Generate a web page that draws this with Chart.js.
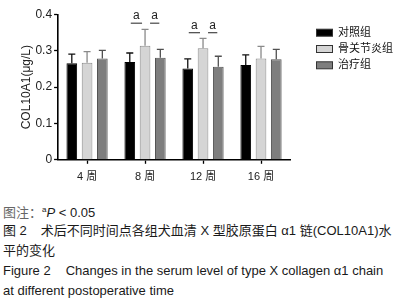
<!DOCTYPE html>
<html>
<head>
<meta charset="utf-8">
<script src="https://cdn.jsdelivr.net/npm/chart.js@4/dist/chart.umd.min.js"></script>
<style>
  html, body { margin: 0; padding: 0; background: #fff; }
  body { width: 404px; height: 305px; position: relative; overflow: hidden; }
  #wrap { position: absolute; left: 0; top: 0; width: 404px; height: 200px; }
  .cap { position: absolute; left: 3px; font-family: "Liberation Sans", "Noto Sans CJK SC", sans-serif; font-size: 13px; line-height: 20px; color: #1a1a1a; white-space: nowrap; }
  .gap { display: inline-block; }
</style>
</head>
<body>
<div id="wrap"><canvas id="c" width="404" height="200"></canvas></div>
<div class="cap" style="top:200px"><span style="color:#666">图注：</span><sup style="font-size:8px;vertical-align:5px">a</sup><i>P</i> &lt; 0.05</div>
<div class="cap" style="top:221px">图 2<span class="gap" style="width:14px"></span>术后不同时间点各组犬血清 X 型胶原蛋白 α1 链(COL10A1)水</div>
<div class="cap" style="top:241px">平的变化</div>
<div class="cap" style="top:261px">Figure 2<span class="gap" style="width:15px"></span>Changes in the serum level of type X collagen α1 chain</div>
<div class="cap" style="top:281px">at different postoperative time</div>
<script>
const categories = ['4 周', '8 周', '12 周', '16 周'];
const groupNames = ['对照组', '骨关节炎组', '治疗组'];
const controlMean = [0.266, 0.269, 0.251, 0.261];
const controlSD   = [0.025, 0.025, 0.027, 0.028];
const oaMean      = [0.267, 0.314, 0.307, 0.279];
const oaSD        = [0.031, 0.045, 0.027, 0.033];
const treatMean   = [0.279, 0.281, 0.256, 0.277];
const treatSD     = [0.022, 0.023, 0.029, 0.027];
const yTicks = [0, 0.1, 0.2, 0.3, 0.4];
// significance marks: category index, y value of the bracket lines, label
const sigCats = [1, 2];
const sigLevels = [0.376, 0.350];
const sigLabel = 'a';

const FONT = '"Liberation Sans", "Noto Sans CJK SC", sans-serif';
const fills = ['#000000', '#d5d5d5', '#7e7e7e'];
const borders = ['#000000', '#8a8a8a', '#545454'];
const errCols = ['#111111', '#8a8a8a', '#505050'];
const means = [controlMean, oaMean, treatMean];
const sds = [controlSD, oaSD, treatSD];

const errorBars = {
  id: 'errorBars',
  afterDatasetsDraw(chart) {
    const ctx = chart.ctx;
    const ys = chart.scales.y;
    ctx.save();
    ctx.lineWidth = 1.3;
    chart.data.datasets.forEach((ds, i) => {
      const meta = chart.getDatasetMeta(i);
      meta.data.forEach((el, j) => {
        const top = ys.getPixelForValue(ds.data[j] + ds.errors[j]);
        ctx.strokeStyle = ds.errColor;
        ctx.beginPath();
        ctx.moveTo(el.x, el.y);
        ctx.lineTo(el.x, top);
        ctx.moveTo(el.x - 3.5, top);
        ctx.lineTo(el.x + 3.5, top);
        ctx.stroke();
      });
    });
    ctx.restore();
  }
};

const sigMarks = {
  id: 'sigMarks',
  afterDatasetsDraw(chart) {
    const ctx = chart.ctx;
    const ys = chart.scales.y;
    const m0 = chart.getDatasetMeta(0).data, m1 = chart.getDatasetMeta(1).data, m2 = chart.getDatasetMeta(2).data;
    ctx.save();
    ctx.strokeStyle = '#555';
    ctx.lineWidth = 1.3;
    ctx.fillStyle = '#222';
    ctx.font = '12px ' + FONT;
    ctx.textAlign = 'center';
    ctx.textBaseline = 'alphabetic';
    sigCats.forEach((c, k) => {
      const y = ys.getPixelForValue(sigLevels[k]);
      const pairs = [[m0[c].x + 1, m1[c].x - 3], [m1[c].x + 5, m2[c].x - 1]];
      pairs.forEach(([a, b]) => {
        ctx.beginPath();
        ctx.moveTo(a, y);
        ctx.lineTo(b, y);
        ctx.stroke();
        ctx.fillText(sigLabel, (a + b) / 2, y - 4);
      });
    });
    ctx.restore();
  }
};

const sideLegend = {
  id: 'sideLegend',
  afterDraw(chart) {
    const ctx = chart.ctx;
    const ca = chart.chartArea;
    ctx.save();
    ctx.font = '11px ' + FONT;
    ctx.textAlign = 'left';
    ctx.textBaseline = 'middle';
    chart.data.datasets.forEach((ds, i) => {
      const cy = ca.top + 18.2 + i * 16.3;
      const bx = ca.right + 26;
      ctx.fillStyle = ds.backgroundColor;
      ctx.fillRect(bx, cy - 3.5, 17, 7);
      ctx.strokeStyle = '#333';
      ctx.lineWidth = 1;
      ctx.strokeRect(bx + 0.5, cy - 3.5, 16, 7);
      ctx.fillStyle = '#111';
      ctx.fillText(ds.label, bx + 22, cy);
    });
    ctx.restore();
  }
};

new Chart(document.getElementById('c'), {
  type: 'bar',
  data: {
    labels: categories,
    datasets: groupNames.map((n, i) => ({
      label: n,
      data: means[i],
      errors: sds[i],
      errColor: errCols[i],
      backgroundColor: fills[i],
      borderColor: borders[i],
      borderWidth: 1,
      barPercentage: 0.7,
      categoryPercentage: 0.79
    }))
  },
  options: {
    responsive: false,
    animation: false,
    devicePixelRatio: 1,
    layout: { padding: { top: 14.5, left: 19, right: 114, bottom: 9 } },
    plugins: {
      tooltip: { enabled: false },
      legend: { display: false }
    },
    scales: {
      x: {
        grid: { offset: false, drawOnChartArea: false, color: '#000', tickLength: 4, tickWidth: 1.3 },
        border: { color: '#000', width: 1.6 },
        ticks: { font: { family: FONT, size: 11 }, color: '#222', padding: 7 }
      },
      y: {
        min: 0, max: 0.4,
        afterBuildTicks(s) { s.ticks = yTicks.map(v => ({ value: v })); },
        grid: { drawOnChartArea: false, color: '#000', tickLength: 4, tickWidth: 1.3 },
        border: { color: '#000', width: 1.6 },
        ticks: { font: { family: FONT, size: 12 }, color: '#222', padding: 2,
                 callback: v => v === 0 ? '0' : v.toFixed(1) },
        title: { display: true, text: 'COL10A1(μg/L)', font: { family: FONT, size: 12 }, color: '#222', padding: { top: 0, bottom: 0 } }
      }
    }
  },
  plugins: [errorBars, sigMarks, sideLegend]
});
</script>
</body>
</html>
